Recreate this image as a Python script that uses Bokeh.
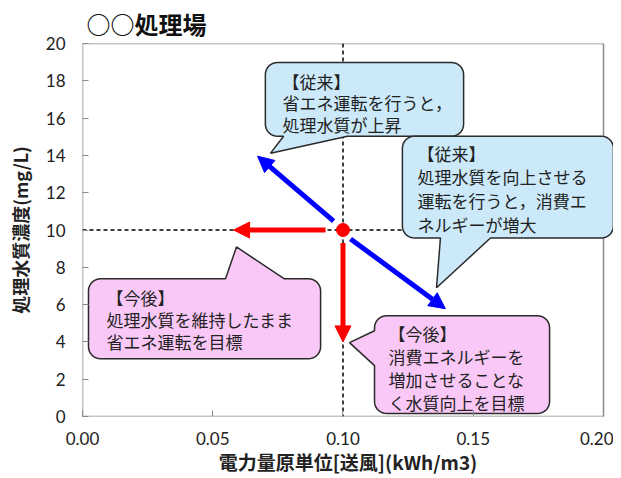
import numpy as np
from bokeh.plotting import figure
from bokeh.models import (Range1d, Span, Arrow, NormalHead, ColumnDataSource,
                          FixedTicker, PrintfTickFormatter)
from bokeh.embed import file_html
from bokeh.resources import INLINE

# ---------------- data ----------------
TITLE = "○○処理場"
X_LABEL = "電力量原単位[送風](kWh/m3)"
Y_LABEL = "処理水質濃度(mg/L)"
X_TICKS = [0.0, 0.05, 0.10, 0.15, 0.20]
Y_TICKS = [0, 2, 4, 6, 8, 10, 12, 14, 16, 18, 20]

# current operating point
point_x = [0.10]
point_y = [10.0]

# conventional (blue) arrows: start -> end
blue_x0 = [0.0964, 0.1029]
blue_y0 = [10.48, 9.52]
blue_x1 = [0.0672, 0.1393]
blue_y1 = [13.96, 5.78]

# target (red) arrows: start -> end
red_x0 = [0.0933, 0.10]
red_y0 = [10.0, 9.3]
red_x1 = [0.058, 0.10]
red_y1 = [10.0, 4.0]

# callout texts
text_b1 = ["【従来】", "省エネ運転を行うと，", "処理水質が上昇"]
text_b2 = ["【従来】", "処理水質を向上させる", "運転を行うと，消費エ", "ネルギーが増大"]
text_b3 = ["【今後】", "処理水質を維持したまま", "省エネ運転を目標"]
text_b4 = ["【今後】", "消費エネルギーを", "増加させることな", "く水質向上を目標"]

# ---------------- layout ----------------
W, H = 613, 478
X_END = 0.20384           # frame extends a bit past 0.20 so the callout fits
SX = 531 / X_END          # px per x unit
SY = 374 / 20.0           # px per y unit
BLUE_FILL = "#CBE9F8"
PINK_FILL = "#F9C8F6"

bubbles = [
    dict(x0=0.0702, x1=0.1463, y0=15.03, y1=18.98, side="bottom",
         base=(0.0772, 0.1017), tip=(0.0722, 14.12), fill=BLUE_FILL,
         tx=0.0768, ty=17.97, step=21.5, lines=text_b1),
    dict(x0=0.1228, x1=0.2038, y0=9.57, y1=15.03, side="bottom",
         base=(0.1374, 0.1566), tip=(0.1359, 6.90), fill=BLUE_FILL,
         tx=0.1286, ty=14.12, step=23.7, lines=text_b2),
    dict(x0=0.0023, x1=0.0914, y0=3.10, y1=7.38, side="top",
         base=(0.0549, 0.0775), tip=(0.0591, 9.09), fill=PINK_FILL,
         tx=0.0092, ty=6.36, step=22.0, lines=text_b3),
    dict(x0=0.1121, x1=0.1793, y0=0.16, y1=5.40, side="left",
         base=(2.73, 4.60), tip=(0.1025, 3.96), fill=PINK_FILL,
         tx=0.1175, ty=4.44, step=23.0, lines=text_b4),
]


def bubble_path(b, r=12):
    rx, ry = r / SX, r / SY
    x0, x1, y0, y1 = b["x0"], b["x1"], b["y0"], b["y1"]
    xs, ys = [], []

    def arc(cx, cy, a0, a1):
        for t in np.linspace(np.radians(a0), np.radians(a1), 10):
            xs.append(cx + rx * np.cos(t))
            ys.append(cy + ry * np.sin(t))

    # top edge (left -> right)
    if b["side"] == "top":
        xs += [b["base"][0], b["tip"][0], b["base"][1]]
        ys += [y1, b["tip"][1], y1]
    arc(x1 - rx, y1 - ry, 90, 0)
    arc(x1 - rx, y0 + ry, 0, -90)
    # bottom edge (right -> left)
    if b["side"] == "bottom":
        xs += [b["base"][1], b["tip"][0], b["base"][0]]
        ys += [y0, b["tip"][1], y0]
    arc(x0 + rx, y0 + ry, -90, -180)
    # left edge (bottom -> top)
    if b["side"] == "left":
        xs += [x0, b["tip"][0], x0]
        ys += [b["base"][0], b["tip"][1], b["base"][1]]
    arc(x0 + rx, y1 - ry, 180, 90)
    return xs, ys


p = figure(width=W, height=H, x_range=Range1d(0, X_END), y_range=Range1d(0, 20),
           output_backend="svg", toolbar_location=None, title=TITLE,
           min_border_left=82, min_border_right=0, min_border_top=42,
           min_border_bottom=62)
p.outline_line_color = None
p.xgrid.visible = False
p.ygrid.visible = False
p.background_fill_color = "white"
p.border_fill_color = "white"

p.title.text_font = "Noto Sans CJK JP"
p.title.text_font_size = "24px"
p.title.text_font_style = "bold"
p.title.text_color = "#111111"
p.title.align = "left"
p.title.offset = 4
p.title.standoff = 6

for ax, ticks in ((p.xaxis[0], X_TICKS), (p.yaxis[0], Y_TICKS)):
    ax.ticker = FixedTicker(ticks=ticks)
    ax.axis_line_color = None
    ax.major_tick_in = 6
    ax.major_tick_out = 0
    ax.major_tick_line_color = "#8a8a8a"
    ax.major_tick_line_width = 1
    ax.minor_tick_line_color = None
    ax.major_label_text_font = "Lato"
    ax.major_label_text_font_size = "17px"
    ax.major_label_text_color = "#222222"
    ax.axis_label_text_font = "Noto Sans CJK JP"
    ax.axis_label_text_font_style = "bold"
    ax.axis_label_text_color = "#222222"

p.xaxis[0].formatter = PrintfTickFormatter(format="%.2f")
p.xaxis[0].axis_label = X_LABEL
p.xaxis[0].axis_label_text_font_size = "19px"
p.xaxis[0].major_label_standoff = 15
p.xaxis[0].axis_label_standoff = 0
p.yaxis[0].axis_label = Y_LABEL
p.yaxis[0].axis_label_text_font_size = "18px"
p.yaxis[0].major_label_standoff = 17
p.yaxis[0].axis_label_standoff = 10

# plot-area border (0..0.20, 0..20)
p.quad(left=[X_TICKS[0]], right=[X_TICKS[-1]], bottom=[Y_TICKS[0]], top=[Y_TICKS[-1]],
       fill_color=None, line_color="#8a8a8a", line_width=1.5, level="underlay")

# dashed reference lines through the operating point
p.add_layout(Span(location=point_x[0], dimension="height", line_color="black",
                  line_dash="4 3", line_width=1.5, level="underlay"))
p.add_layout(Span(location=point_y[0], dimension="width", line_color="black",
                  line_dash="4 3", line_width=1.5, level="underlay"))

# callout bubbles
bx, by, bf = [], [], []
for b in bubbles:
    xs, ys = bubble_path(b)
    bx.append(xs)
    by.append(ys)
    bf.append(b["fill"])
p.patches(xs="xs", ys="ys", fill_color="fc", line_color="#2a2a2a", line_width=1.5,
          source=ColumnDataSource(dict(xs=bx, ys=by, fc=bf)))

tx, ty, tt = [], [], []
for b in bubbles:
    for i, line in enumerate(b["lines"]):
        tx.append(b["tx"])
        ty.append(b["ty"] - i * b["step"] / SY)
        tt.append(line)
p.text(x="x", y="y", text="t", source=ColumnDataSource(dict(x=tx, y=ty, t=tt)),
       text_font_size="17px", text_baseline="middle", text_align="left",
       text_color="#222222", text_font={"value": "Noto Sans CJK JP"})

# arrows
for x0, y0, x1, y1 in zip(blue_x0, blue_y0, blue_x1, blue_y1):
    p.add_layout(Arrow(x_start=x0, y_start=y0, x_end=x1, y_end=y1,
                       line_color="#0000FF", line_width=5,
                       end=NormalHead(size=16, fill_color="#0000FF", line_color="#0000FF")))
for x0, y0, x1, y1 in zip(red_x0, red_y0, red_x1, red_y1):
    p.add_layout(Arrow(x_start=x0, y_start=y0, x_end=x1, y_end=y1,
                       line_color="#FF0000", line_width=5,
                       end=NormalHead(size=16, fill_color="#FF0000", line_color="#FF0000")))

p.scatter(x=point_x, y=point_y, size=13, fill_color="#FF0000", line_color="#FF0000")

open("out.html", "w").write(file_html(p, INLINE))
